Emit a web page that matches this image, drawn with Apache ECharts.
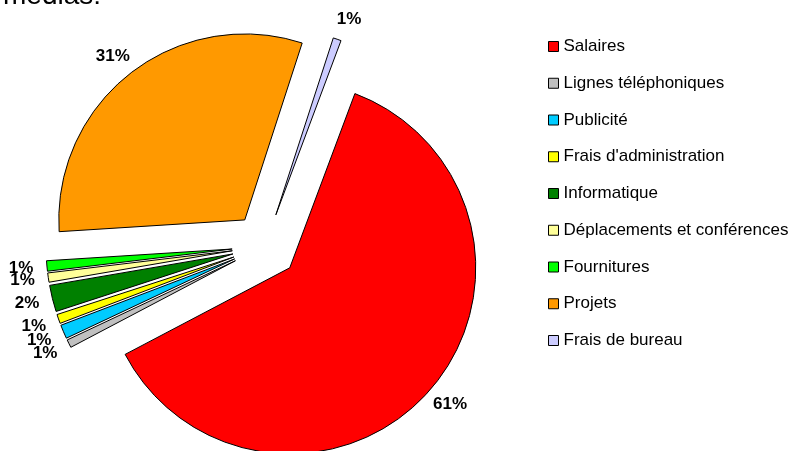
<!DOCTYPE html>
<html>
<head>
<meta charset="utf-8">
<script src="https://cdn.jsdelivr.net/npm/echarts@6/dist/echarts.min.js"></script>
<style>
html,body{margin:0;padding:0;background:#fff;}
#main{width:788px;height:451px;}
</style>
</head>
<body>
<div id="main"></div>
<script>
// postes de dépenses (%)
var categories = ['Salaires', 'Lignes téléphoniques', 'Publicité', "Frais d'administration", 'Informatique',
	'Déplacements et conférences', 'Fournitures', 'Projets', 'Frais de bureau'];
var values = [61.6, 0.7, 1.2, 0.8, 2.3, 0.8, 0.9, 31.0, 0.7];
var colors = ['#ff0000', '#c0c0c0', '#00ccff', '#ffff00', '#008000', '#ffff99', '#00ff00', '#ff9900', '#ccccff'];

function makeData(){
	var data = [];
	for(var i=0;i<categories.length;i++){
		data.push({
			name: categories[i],
			value: values[i],
			selected: true,
			itemStyle: {color: colors[i]}
		})
	}
	return data
}

var myChart = echarts.init(document.getElementById('main'));

var option = {
	animation: false,
	title: {
		text: 'médias:',
		left: -2,
		top: -23,
		textStyle: {fontFamily: 'Liberation Sans', fontSize: 28, fontWeight: 'normal', color: '#000'}
	},
	legend: {
		orient: 'vertical',
		left: 543,
		top: 33,
		itemWidth: 10,
		itemHeight: 10,
		itemGap: 19.75,
		icon: 'rect',
		itemStyle: {borderColor: '#000', borderWidth: 1},
		textStyle: {fontFamily: 'Liberation Sans', fontSize: 17, color: '#000'},
		data: categories
	},
	series: [{
		type: 'pie',
		center: [265, 246],
		radius: 186,
		startAngle: 69.5,
		clockwise: true,
		selectedMode: 'multiple',
		selectedOffset: 33,
		avoidLabelOverlap: false,
		percentPrecision: 0,
		itemStyle: {borderColor: '#000', borderWidth: 1},
		label: {
			show: true,
			position: 'outside',
			formatter: '{d}%',
			fontFamily: 'Liberation Sans',
			fontSize: 17,
			fontWeight: 'bold',
			color: '#000'
		},
		labelLine: {show: false, length: 21, length2: 0},
		labelLayout: function(){
			return {align: 'center', verticalAlign: 'middle', hideOverlap: false}
		},
		emphasis: {disabled: true},
		data: makeData()
	}]
};

myChart.setOption(option);
</script>
</body>
</html>
